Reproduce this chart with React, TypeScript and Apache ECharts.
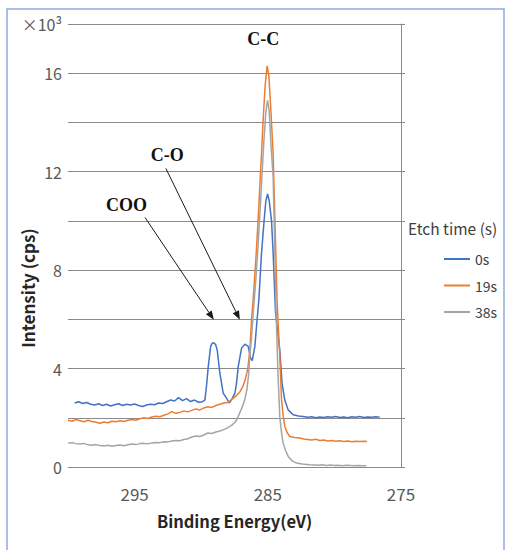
import React, { useEffect, useRef } from "react";
import * as echarts from "echarts";

// Binding energy (eV) and intensity (cps) for each etch time
const e0s = [299.5, 299.2, 298.9, 298.6, 298.3, 298.0, 297.7, 297.4, 297.1, 296.8, 296.5, 296.2, 295.9, 295.6, 295.3, 295.0, 294.7, 294.4, 294.1, 293.8, 293.5, 293.2, 292.9, 292.6, 292.3, 292.0, 291.7, 291.4, 291.1, 290.8, 290.5, 290.2, 289.9, 289.72, 289.6, 289.47, 289.29, 289.17, 289.05, 288.92, 288.8, 288.6, 288.35, 288.1, 287.9, 287.72, 287.47, 287.35, 287.22, 286.97, 286.72, 286.47, 286.3, 286.17, 285.97, 285.85, 285.67, 285.47, 285.28, 285.15, 285.02, 284.89, 284.72, 284.6, 284.42, 284.1, 283.93, 283.73, 283.47, 283.1, 282.7, 282.35, 282.0, 281.7, 281.4, 281.1, 280.8, 280.5, 280.2, 279.9, 279.6, 279.3, 279.0, 278.7, 278.4, 278.1, 277.8, 277.5, 277.2, 276.9, 276.6];
const i0s = [2600, 2650, 2580, 2620, 2550, 2520, 2570, 2500, 2550, 2480, 2530, 2570, 2500, 2550, 2520, 2560, 2500, 2460, 2520, 2550, 2530, 2600, 2580, 2650, 2720, 2680, 2820, 2700, 2780, 2660, 2720, 2630, 2650, 2730, 3300, 4080, 4900, 5030, 5050, 4980, 4760, 3820, 3000, 2800, 2600, 2730, 3000, 3400, 4080, 4830, 4990, 4900, 4430, 4320, 4900, 5700, 6800, 8700, 10000, 10800, 11100, 10800, 10000, 8700, 6260, 4750, 3400, 2730, 2320, 2120, 2070, 2050, 2020, 2040, 2000, 2030, 2010, 2040, 2020, 2050, 2010, 2030, 2000, 2040, 2020, 2050, 2010, 2030, 2020, 2040, 2020];

const e19s = [300.0, 299.7, 299.4, 299.1, 298.8, 298.5, 298.2, 297.9, 297.6, 297.3, 297.0, 296.7, 296.4, 296.1, 295.8, 295.5, 295.2, 294.9, 294.6, 294.3, 294.0, 293.7, 293.4, 293.1, 292.8, 292.5, 292.2, 291.9, 291.6, 291.3, 291.0, 290.7, 290.4, 290.1, 289.8, 289.5, 289.2, 288.9, 288.6, 288.3, 288.0, 287.7, 287.4, 287.1, 286.85, 286.72, 286.5, 286.35, 286.22, 286.1, 285.9, 285.73, 285.6, 285.47, 285.35, 285.2, 285.05, 284.92, 284.78, 284.6, 284.45, 284.3, 284.1, 283.97, 283.85, 283.72, 283.55, 283.35, 283.0, 282.6, 282.3, 282.0, 281.7, 281.4, 281.1, 280.8, 280.5, 280.2, 279.9, 279.6, 279.3, 279.0, 278.7, 278.4, 278.1, 277.8, 277.55];
const i19s = [1900, 1860, 1930, 1880, 1840, 1900, 1850, 1820, 1780, 1830, 1800, 1860, 1840, 1880, 1850, 1900, 1930, 1900, 1960, 2000, 1970, 2030, 2060, 2040, 2100, 2160, 2250, 2180, 2220, 2280, 2240, 2300, 2360, 2320, 2400, 2450, 2420, 2500, 2550, 2600, 2620, 2750, 2880, 3050, 3300, 3500, 4000, 4750, 6000, 6800, 8400, 10000, 11400, 12750, 14100, 15500, 16300, 15900, 14600, 12750, 9700, 6700, 4500, 2730, 2100, 1650, 1400, 1240, 1200, 1180, 1140, 1120, 1100, 1130, 1080, 1100, 1060, 1080, 1050, 1070, 1040, 1060, 1030, 1050, 1040, 1050, 1040];

const e38s = [300.0, 299.7, 299.4, 299.1, 298.8, 298.5, 298.2, 297.9, 297.6, 297.3, 297.0, 296.7, 296.4, 296.1, 295.8, 295.5, 295.2, 294.9, 294.6, 294.3, 294.0, 293.7, 293.4, 293.1, 292.8, 292.5, 292.2, 291.9, 291.6, 291.3, 291.0, 290.7, 290.4, 290.1, 289.8, 289.5, 289.2, 288.9, 288.6, 288.3, 288.0, 287.7, 287.5, 287.33, 287.15, 286.95, 286.75, 286.57, 286.45, 286.35, 286.22, 286.1, 285.9, 285.73, 285.6, 285.47, 285.3, 285.15, 285.02, 284.9, 284.75, 284.6, 284.5, 284.4, 284.25, 284.1, 283.97, 283.85, 283.65, 283.47, 283.2, 282.85, 282.4, 281.85, 281.5, 281.2, 280.9, 280.6, 280.3, 280.0, 279.7, 279.4, 279.1, 278.8, 278.5, 278.2, 277.9, 277.6];
const i38s = [970, 990, 950, 930, 960, 900, 880, 910, 870, 850, 880, 840, 870, 890, 860, 900, 930, 910, 950, 960, 940, 980, 1000, 990, 1030, 1020, 1060, 1080, 1070, 1120, 1150, 1220, 1260, 1240, 1300, 1380, 1360, 1420, 1460, 1520, 1600, 1700, 1800, 1920, 2150, 2400, 2700, 3140, 3700, 4500, 5300, 6200, 7600, 9000, 10200, 11500, 13200, 14400, 14900, 14500, 13000, 11800, 9500, 6800, 4000, 2050, 1400, 970, 650, 430, 260, 160, 120, 90, 80, 70, 90, 60, 80, 60, 70, 50, 70, 60, 50, 60, 50, 50];

const seriesNames = ["0s", "19s", "38s"];
const seriesColors = ["#4472C4", "#ED7D31", "#A5A5A5"];
const xTickLabels = [295, 285, 275];

// Annotations: [label, energy, intensity] and arrows [from E, from I, to E, to I]
const peakLabels: [string, number, number][] = [
  ["C-C", 285.34, 17380],
  ["C-O", 292.54, 12670],
  ["COO", 295.61, 10640],
];
const arrows: [number, number, number, number][] = [
  [292.65, 12130, 287.1, 5980],
  [294.22, 10140, 289.05, 5980],
];

const zip = (xs: number[], ys: number[]) => xs.map((x, i) => [x, ys[i]]);

export default function App() {
  const ref = useRef<HTMLDivElement>(null);
  useEffect(() => {
    if (!ref.current) return;
    const chart = echarts.init(ref.current, undefined, { renderer: "svg" });
    const gridColor = "#8a8a8a";
    const font = "'Noto Sans CJK JP', 'Noto Sans', sans-serif";
    const datasets = [zip(e0s, i0s), zip(e19s, i19s), zip(e38s, i38s)];
    const series: any[] = datasets.map((d, k) => ({
      name: seriesNames[k],
      type: "line",
      data: d,
      showSymbol: false,
      symbol: "none",
      lineStyle: { color: seriesColors[k], width: 1.5 },
      itemStyle: { color: seriesColors[k] },
      z: 2 + k,
    }));
    series[0].markPoint = {
      silent: true,
      symbol: "circle",
      symbolSize: 0,
      data: peakLabels.map((p) => ({
        coord: [p[1], p[2]],
        label: {
          show: true,
          position: "inside",
          formatter: p[0],
          fontFamily: "'Liberation Serif', 'DejaVu Serif', serif",
          fontWeight: "bold",
          fontSize: 18,
          color: "#111",
        },
      })),
    };
    const baseGraphic: any[] = [
      {
        type: "rect",
        shape: { x: 7, y: 9, width: 497, height: 600 },
        style: { fill: "none", stroke: "#8FAADC", lineWidth: 1.5 },
        silent: true,
      },
      {
        type: "text",
        left: 408,
        top: 220,
        style: { text: "Etch time (s)", fontSize: 15.5, fill: "#404040", fontFamily: font },
        silent: true,
      },
      {
        type: "text",
        x: 27,
        y: 288,
        rotation: Math.PI / 2,
        style: {
          text: "Intensity (cps)",
          fontSize: 17,
          fontWeight: "bold",
          fill: "#262626",
          fontFamily: font,
          align: "center",
          verticalAlign: "middle",
        },
        silent: true,
      },
    ];
    chart.setOption({
      animation: false,
      grid: { left: 68, top: 24, right: 104, bottom: 83 },
      legend: {
        orient: "vertical",
        left: 439,
        top: 246,
        icon: "rect",
        itemWidth: 26,
        itemHeight: 2,
        itemGap: 10.5,
        data: seriesNames,
        textStyle: { fontSize: 14, lineHeight: 16, color: "#404040", fontFamily: font },
      },
      xAxis: {
        type: "value",
        min: 275,
        max: 300,
        interval: 5,
        inverse: true,
        axisLine: { show: false },
        axisTick: { show: false },
        splitLine: { show: false },
        axisLabel: {
          margin: 18,
          fontSize: 17,
          color: "#595959",
          fontFamily: font,
          formatter: (v: number) => (xTickLabels.includes(v) ? String(v) : ""),
        },
        name: "Binding Energy(eV)",
        nameLocation: "middle",
        nameGap: 46,
        nameTextStyle: { fontSize: 16.5, fontWeight: "bold", color: "#262626", fontFamily: font },
      },
      yAxis: [
        {
          type: "value",
          min: 0,
          max: 18000,
          interval: 2000,
          axisLine: { show: false },
          axisTick: { show: false },
          splitLine: { show: true, lineStyle: { color: gridColor, width: 1 } },
          axisLabel: {
            margin: 6,
            fontSize: 16,
            color: "#595959",
            fontFamily: font,
            formatter: (v: number) =>
              v === 18000 ? "×10³" : v % 4000 === 0 ? String(v / 1000) : "",
          },
        },
        {
          type: "value",
          position: "right",
          min: 0,
          max: 18000,
          interval: 2000,
          axisLine: { show: true, lineStyle: { color: gridColor, width: 1 } },
          axisTick: { show: true, inside: false, length: 4, lineStyle: { color: gridColor } },
          axisLabel: { show: false },
          splitLine: { show: false },
        },
      ],
      graphic: baseGraphic,
      series,
    });
    // Arrows placed from data coordinates through the chart's own scales
    const arrowGraphic: any[] = [];
    arrows.forEach((a) => {
      const p0 = chart.convertToPixel({ gridIndex: 0 }, [a[0], a[1]]) as number[];
      const p1 = chart.convertToPixel({ gridIndex: 0 }, [a[2], a[3]]) as number[];
      const dx = p1[0] - p0[0];
      const dy = p1[1] - p0[1];
      const len = Math.sqrt(dx * dx + dy * dy);
      const ux = dx / len;
      const uy = dy / len;
      const headL = 9;
      const headW = 3.5;
      const bx = p1[0] - ux * headL;
      const by = p1[1] - uy * headL;
      arrowGraphic.push({
        type: "line",
        shape: { x1: p0[0], y1: p0[1], x2: bx, y2: by },
        style: { stroke: "#1a1a1a", lineWidth: 1 },
        silent: true,
        z: 10,
      });
      arrowGraphic.push({
        type: "polygon",
        shape: {
          points: [
            [p1[0], p1[1]],
            [bx - uy * headW, by + ux * headW],
            [bx + uy * headW, by - ux * headW],
          ],
        },
        style: { fill: "#1a1a1a" },
        silent: true,
        z: 10,
      });
    });
    chart.setOption({ graphic: baseGraphic.concat(arrowGraphic) });
    return () => chart.dispose();
  }, []);
  return (
    <div
      ref={ref}
      style={{ position: "absolute", left: 0, top: 0, width: 505, height: 550, background: "#fff" }}
    />
  );
}
